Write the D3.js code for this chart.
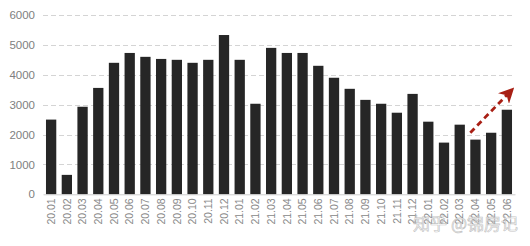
<!DOCTYPE html>
<html>
<head>
<meta charset="utf-8">
<script src="https://cdn.jsdelivr.net/npm/d3@7"></script>
<style>
  body { margin: 0; background: #fff; }
  svg { display: block; }
</style>
</head>
<body>
<div id="chart"></div>
<script>
// Monthly values
const months = ["20.01","20.02","20.03","20.04","20.05","20.06","20.07","20.08","20.09","20.10",
                "20.11","20.12","21.01","21.02","21.03","21.04","21.05","21.06","21.07","21.08",
                "21.09","21.10","21.11","21.12","22.01","22.02","22.03","22.04","22.05","22.06"];
const values = [2500, 650, 2930, 3560, 4400, 4730, 4600, 4530, 4500, 4400,
                4500, 5330, 4500, 3030, 4900, 4730, 4730, 4300, 3900, 3530,
                3160, 3030, 2730, 3360, 2430, 1730, 2330, 1830, 2060, 2830];
const yTicks = [0, 1000, 2000, 3000, 4000, 5000, 6000];
// trend arrow: [month, side, value]
const arrowFrom = ["22.04", "left", 2060];
const arrowTo = ["22.06", "right", 3500];
const watermark = "知乎 @锦房记";

const W = 530, H = 246;
const margin = { top: 15, right: 15, bottom: 52, left: 43 };

const svg = d3.select("#chart").append("svg")
    .attr("width", W)
    .attr("height", H);

const x = d3.scaleBand()
    .domain(months)
    .range([margin.left, W - margin.right])
    .paddingInner(0.345)
    .paddingOuter(0.19);

const y = d3.scaleLinear()
    .domain([0, 6000])
    .range([H - margin.bottom + 0.3, margin.top]);

// gridlines
svg.append("g")
    .selectAll("line")
    .data(yTicks.filter(d => d > 0))
    .join("line")
    .attr("x1", margin.left)
    .attr("x2", W - margin.right)
    .attr("y1", d => Math.round(y(d)) + 0.5)
    .attr("y2", d => Math.round(y(d)) + 0.5)
    .attr("stroke", "#d4d4d4")
    .attr("stroke-dasharray", "5,3");

// y axis labels
svg.append("g")
    .attr("transform", `translate(${margin.left - 8},0)`)
    .call(d3.axisLeft(y).tickValues(yTicks).tickFormat(d3.format("d")).tickSize(0).tickPadding(0))
    .call(g => g.select(".domain").remove())
    .call(g => g.selectAll("text")
        .attr("fill", "#808080")
        .attr("font-family", "Liberation Sans, Arial, sans-serif")
        .attr("font-size", 11.5));

// bars
svg.append("g")
    .selectAll("rect")
    .data(months)
    .join("rect")
    .attr("x", d => x(d))
    .attr("width", x.bandwidth())
    .attr("y", (d, i) => y(values[i]))
    .attr("height", (d, i) => y(0) - y(values[i]))
    .attr("fill", "#262626");

// x axis
svg.append("g")
    .attr("transform", `translate(0,${y(0)})`)
    .call(d3.axisBottom(x).tickSize(0).tickPadding(4))
    .call(g => g.select(".domain").attr("stroke", "#ccc"))
    .call(g => g.selectAll("text")
        .attr("fill", "#888")
        .attr("font-family", "Liberation Sans, Arial, sans-serif")
        .attr("font-size", 10.5)
        .attr("text-anchor", "end")
        .attr("dx", "-4")
        .attr("dy", "0.35em")
        .attr("transform", "rotate(-90)")
        .attr("x", 0)
        .attr("y", 0));

// trend arrow
const defs = svg.append("defs");
defs.append("marker")
    .attr("id", "arrowhead")
    .attr("viewBox", "0 0 10 10")
    .attr("refX", 8)
    .attr("refY", 5)
    .attr("markerWidth", 5.5)
    .attr("markerHeight", 5.5)
    .attr("orient", "auto")
    .append("path")
    .attr("d", "M0,0 L10,5 L0,10 L3,5 Z")
    .attr("fill", "#a81f14");

const ax = (m, side) => side === "left" ? x(m) : x(m) + x.bandwidth();
svg.append("line")
    .attr("x1", ax(arrowFrom[0], arrowFrom[1]))
    .attr("y1", y(arrowFrom[2]))
    .attr("x2", ax(arrowTo[0], arrowTo[1]))
    .attr("y2", y(arrowTo[2]))
    .attr("stroke", "#a81f14")
    .attr("stroke-width", 2.8)
    .attr("stroke-dasharray", "6,4")
    .attr("marker-end", "url(#arrowhead)");

// watermark
svg.append("text")
    .attr("x", W - 12)
    .attr("y", 230)
    .attr("text-anchor", "end")
    .attr("font-family", "Noto Sans CJK SC, sans-serif")
    .attr("font-size", 17)
    .attr("fill", "#fff")
    .attr("fill-opacity", 0.5)
    .attr("stroke", "#aaa")
    .attr("stroke-width", 0.7)
    .attr("stroke-opacity", 0.7)
    .text(watermark);
</script>
</body>
</html>
